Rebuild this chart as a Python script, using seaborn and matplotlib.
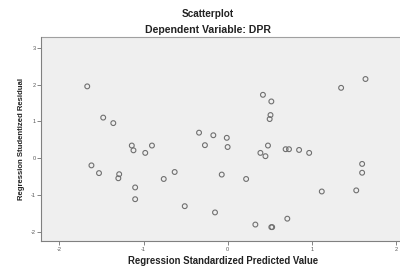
import matplotlib
matplotlib.use("Agg")
import matplotlib.pyplot as plt
import seaborn as sns
import pandas as pd

title = "Scatterplot"
subtitle = "Dependent Variable: DPR"
x_label = "Regression Standardized Predicted Value"
y_label = "Regression Studentized Residual"

pred = [-1.67, -1.48, -1.36, -0.34, -1.14, -1.12, -0.90, -0.98, -1.62, -1.53,
        -1.29, -1.30, -1.10, -1.10, -0.76, -0.63, -0.51, 0.42, 0.52, 0.51,
        0.50, 1.35, 1.64, -0.17, -0.01, -0.27, 0.00, 0.48, 0.39, 0.45,
        0.69, 0.73, 0.85, 0.97, 1.60, 1.60, 1.53, 1.12, -0.07, 0.22,
        -0.15, 0.33, 0.52, 0.53, 0.71]
resid = [1.95, 1.10, 0.95, 0.69, 0.34, 0.21, 0.34, 0.14, -0.20, -0.41,
         -0.44, -0.55, -0.80, -1.12, -0.57, -0.38, -1.31, 1.72, 1.54, 1.17,
         1.06, 1.91, 2.15, 0.62, 0.55, 0.35, 0.30, 0.34, 0.14, 0.05,
         0.24, 0.24, 0.22, 0.14, -0.16, -0.40, -0.88, -0.91, -0.45, -0.57,
         -1.48, -1.81, -1.88, -1.88, -1.65]
x_ticks = [-2, -1, 0, 1, 2]
y_ticks = [-2, -1, 0, 1, 2, 3]

df = pd.DataFrame({"pred": pred, "resid": resid})

sns.set_style("white")
plt.rcParams['font.family'] = ['Liberation Sans', 'DejaVu Sans']

fig = plt.figure(figsize=(4, 2.67), dpi=100)
ax = fig.add_axes([0.1025, 0.097, 0.91, 0.764])
ax.set_facecolor("#efefef")

sns.scatterplot(data=df, x="pred", y="resid", ax=ax, marker="o", s=12,
                facecolor="none", edgecolor="#707070", linewidth=0.8)

ax.set_xlim(-2.22, 2.11)
ax.set_ylim(-2.26, 3.29)
ax.set_xticks(x_ticks)
ax.set_yticks(y_ticks)
ax.set_xticklabels([str(t) for t in x_ticks])
ax.set_yticklabels([str(t) for t in y_ticks])
ax.tick_params(axis="both", direction="out", length=3, width=0.6,
               colors="#707070", labelsize=4, pad=1, labelcolor="#555555")
ax.tick_params(bottom=True, left=True)

for side in ["top", "right"]:
    ax.spines[side].set_visible(False)
for side in ["left", "bottom"]:
    ax.spines[side].set_color("#808080")
    ax.spines[side].set_linewidth(0.8)
ax.plot([0, 1], [1, 1], transform=ax.transAxes, color="#a0a0a0", lw=0.8, clip_on=False)

ax.set_xlabel(x_label, fontsize=6.9, fontweight="bold", color="#222222", labelpad=3)
ax.set_ylabel(y_label, fontsize=5.6, fontweight="bold", color="#222222", labelpad=4)

fig.text(0.52, 0.947, title, ha="center", va="center", fontsize=7.2, fontweight="bold", color="#222222")
fig.text(0.52, 0.887, subtitle, ha="center", va="center", fontsize=7.6, fontweight="bold", color="#222222")

fig.savefig("out.png", dpi=100)
